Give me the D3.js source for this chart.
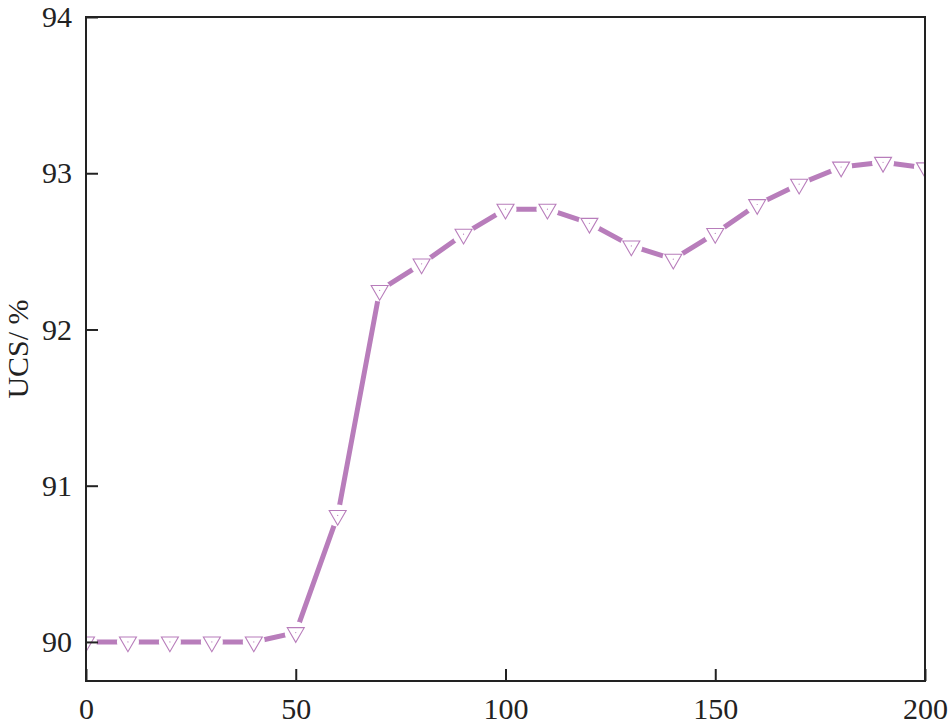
<!DOCTYPE html>
<html>
<head>
<meta charset="utf-8">
<script src="https://cdn.jsdelivr.net/npm/d3@7"></script>
<style>
  html, body { margin: 0; padding: 0; background: #fff; }
  svg { display: block; }
</style>
</head>
<body>
<svg id="chart" width="949" height="727"></svg>
<script>
// ---- data ----
const xValues = [0, 10, 20, 30, 40, 50, 60, 70, 80, 90, 100, 110, 120, 130, 140, 150, 160, 170, 180, 190, 200];
const ucsValues = [90.00, 90.00, 90.00, 90.00, 90.00, 90.06, 90.81, 92.25, 92.42, 92.61, 92.77, 92.77, 92.68, 92.535, 92.45, 92.615, 92.80, 92.93, 93.04, 93.07, 93.035];
const xTicks = [0, 50, 100, 150, 200];
const yTicks = [90, 91, 92, 93, 94];
const yLabel = "UCS/ %";

// ---- layout ----
const W = 949, H = 727;
const margin = {left: 86, right: 24, top: 17, bottom: 46};
const color = "#b87dbb";
const axisColor = "#222";
const fontFam = "Liberation Serif";

const svg = d3.select("#chart");
const x = d3.scaleLinear().domain([0, 200]).range([margin.left, W - margin.right]);
const y = d3.scaleLinear().domain([89.75, 94]).range([H - margin.bottom, margin.top]);

const data = xValues.map((d, i) => ({x: d, y: ucsValues[i]}));

const defs = svg.append("defs");
defs.append("clipPath").attr("id", "plotClip")
  .append("rect")
  .attr("x", margin.left).attr("y", margin.top)
  .attr("width", W - margin.left - margin.right)
  .attr("height", H - margin.top - margin.bottom);

const mask = defs.append("mask").attr("id", "gapMask").attr("maskUnits", "userSpaceOnUse")
  .attr("x", 0).attr("y", 0).attr("width", W).attr("height", H);
mask.append("rect").attr("x", 0).attr("y", 0).attr("width", W).attr("height", H).attr("fill", "#fff");
mask.selectAll("circle").data(data).join("circle")
  .attr("cx", d => x(d.x)).attr("cy", d => y(d.y)).attr("r", 11).attr("fill", "#000");

const plot = svg.append("g").attr("clip-path", "url(#plotClip)");

const line = d3.line().x(d => x(d.x)).y(d => y(d.y)).curve(d3.curveLinear);
plot.append("path")
  .datum(data)
  .attr("d", line)
  .attr("fill", "none")
  .attr("stroke", color)
  .attr("stroke-width", 5)
  .attr("stroke-linejoin", "round")
  .attr("mask", "url(#gapMask)");

// markers: down-pointing triangles
const tri = d3.symbol().type(d3.symbolTriangle).size(125);
const mk = plot.selectAll("g.mk").data(data).join("g")
  .attr("class", "mk")
  .attr("transform", d => `translate(${x(d.x)},${y(d.y)})`);
mk.append("path")
  .attr("d", tri())
  .attr("transform", "rotate(180)")
  .attr("fill", "#fff")
  .attr("stroke", color)
  .attr("stroke-width", 1.1);
mk.append("circle").attr("r", 0.6).attr("fill", color);

// frame
svg.append("rect")
  .attr("x", margin.left).attr("y", margin.top)
  .attr("width", W - margin.left - margin.right)
  .attr("height", H - margin.top - margin.bottom)
  .attr("fill", "none")
  .attr("stroke", axisColor)
  .attr("stroke-width", 2);

// y axis
const yAxis = d3.axisLeft(y).tickValues(yTicks).tickSize(-12).tickPadding(14).tickFormat(d3.format("d"));
const gy = svg.append("g").attr("transform", `translate(${margin.left},0)`).call(yAxis)
  .attr("font-family", fontFam).attr("font-size", 30);
gy.select(".domain").remove();
gy.selectAll(".tick line").attr("stroke", axisColor).attr("stroke-width", 2);
gy.selectAll(".tick text").style("font-family", fontFam).style("font-size", "30px").attr("fill", axisColor);

// x axis
const xAxis = d3.axisBottom(x).tickValues(xTicks).tickSize(-12).tickPadding(17).tickFormat(d3.format("d"));
const gx = svg.append("g").attr("transform", `translate(0,${H - margin.bottom})`).call(xAxis)
  .attr("font-family", fontFam).attr("font-size", 30);
gx.select(".domain").remove();
gx.selectAll(".tick line").attr("stroke", axisColor).attr("stroke-width", 2);
gx.selectAll(".tick text").style("font-family", fontFam).style("font-size", "30px").attr("fill", axisColor);

// y label
svg.append("text")
  .attr("transform", `translate(28,349) rotate(-90)`)
  .attr("text-anchor", "middle")
  .style("font-family", fontFam)
  .style("font-size", "30px")
  .attr("fill", axisColor)
  .text(yLabel);
</script>
</body>
</html>
